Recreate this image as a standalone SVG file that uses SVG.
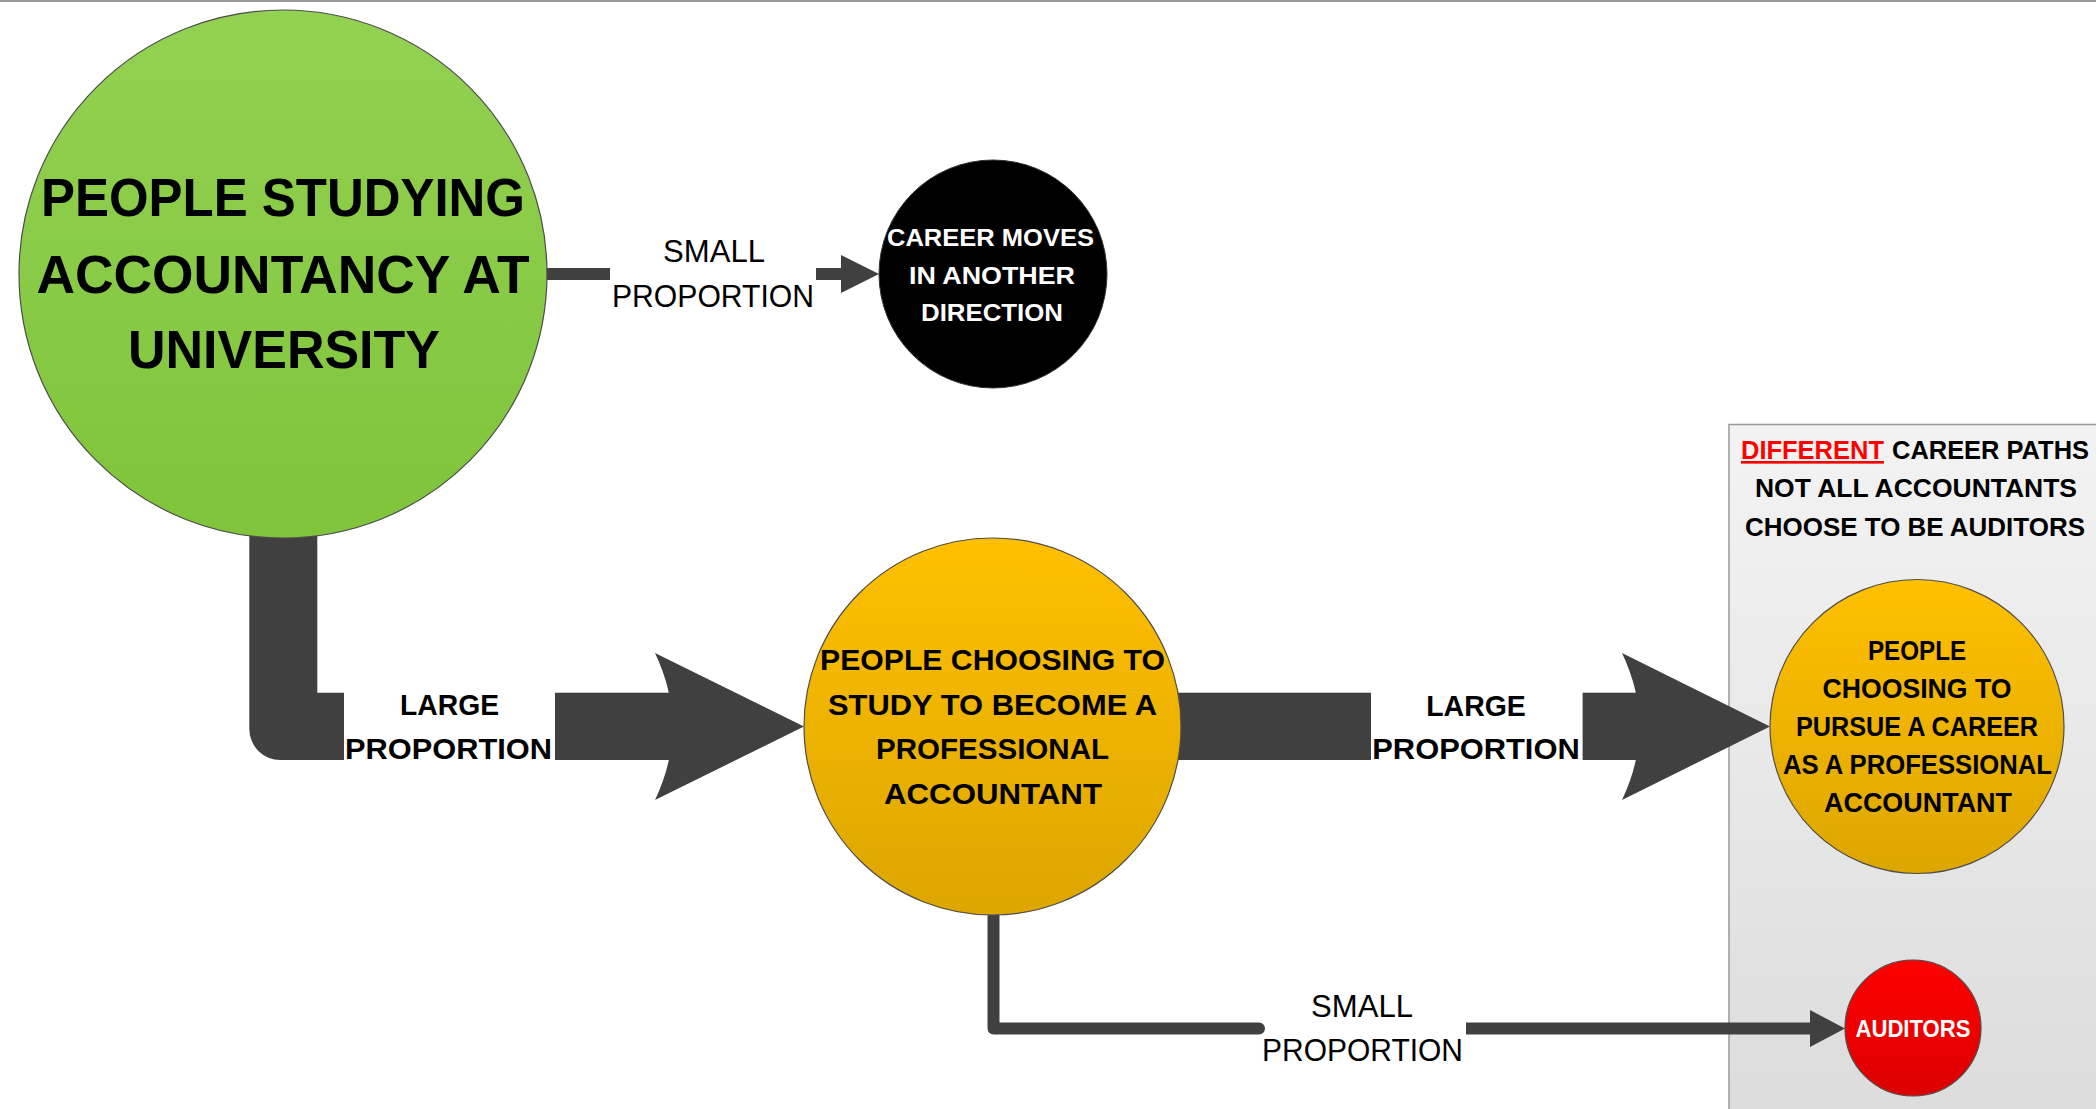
<svg xmlns="http://www.w3.org/2000/svg" width="2096" height="1109" viewBox="0 0 2096 1109">
<defs>
<linearGradient id="gGreen" x1="0" y1="0" x2="0" y2="1"><stop offset="0" stop-color="#93d152"/><stop offset="1" stop-color="#7fc43a"/></linearGradient>
<linearGradient id="gOrange" x1="0" y1="0" x2="0" y2="1"><stop offset="0" stop-color="#ffc000"/><stop offset="1" stop-color="#dda600"/></linearGradient>
<linearGradient id="gRed" x1="0" y1="0" x2="0" y2="1"><stop offset="0" stop-color="#ff0000"/><stop offset="1" stop-color="#dc0000"/></linearGradient>
<linearGradient id="gBox" x1="0" y1="0" x2="0" y2="1"><stop offset="0" stop-color="#f3f3f3"/><stop offset="1" stop-color="#dcdcdc"/></linearGradient>
<style>
.t{font-family:"Liberation Sans",Arial,sans-serif;text-anchor:middle}
.b{font-weight:bold}
.k{fill:#000}
.w{fill:#fff}
.c{fill:#404040}
.ln{stroke:#404040;stroke-width:12;fill:none}
.node{stroke:#4d4d4d;stroke-width:1.2}
</style>
</defs>
<rect x="0" y="0" width="2096" height="1109" fill="#fff"/>
<rect x="0" y="0" width="2096" height="2" fill="#999"/>

<g id="panel">
<rect x="1729" y="424.5" width="400" height="700" fill="url(#gBox)" stroke="#999" stroke-width="1.5"/>
<text x="1741" y="459" font-family="Liberation Sans, Arial, sans-serif" font-weight="bold" font-size="26.5" fill="#ff0000" text-decoration="underline" textLength="143" lengthAdjust="spacingAndGlyphs">DIFFERENT</text>
<text x="1892" y="459" font-family="Liberation Sans, Arial, sans-serif" font-weight="bold" font-size="26.5" fill="#000" textLength="197" lengthAdjust="spacingAndGlyphs">CAREER PATHS</text>
<text class="t b k" x="1916" y="497" font-size="26.5" textLength="322" lengthAdjust="spacingAndGlyphs">NOT ALL ACCOUNTANTS</text>
<text class="t b k" x="1915" y="535.5" font-size="26.5" textLength="340" lengthAdjust="spacingAndGlyphs">CHOOSE TO BE AUDITORS</text>
</g>

<g id="connectors">
<!-- green to black, small proportion -->
<line class="ln" x1="540" y1="274" x2="610" y2="274"/>
<line class="ln" x1="816" y1="274" x2="845" y2="274"/>
<polygon class="c" points="841,255 879,274 841,293"/>
<text class="t" x="714" y="262" font-size="31" textLength="102" lengthAdjust="spacingAndGlyphs">SMALL</text>
<text class="t" x="713" y="307" font-size="31" textLength="202" lengthAdjust="spacingAndGlyphs">PROPORTION</text>

<!-- green to middle, large proportion -->
<path class="c" d="M249.3,500 L317.3,500 L317.3,692.7 L344,692.7 L344,760 L280.3,760 A31,31 0 0 1 249.3,729 Z"/>
<rect class="c" x="555" y="692.7" width="125" height="67.3"/>
<path class="c" d="M655,653 L804,726.5 L655,800 Q690,726.5 655,653 Z"/>
<text class="t b" x="449.5" y="715" font-size="30" textLength="99" lengthAdjust="spacingAndGlyphs">LARGE</text>
<text class="t b" x="448.5" y="758.5" font-size="30" textLength="207" lengthAdjust="spacingAndGlyphs">PROPORTION</text>

<!-- middle to right, large proportion -->
<rect class="c" x="1170" y="692.7" width="201" height="67.3"/>
<rect class="c" x="1582.6" y="692.7" width="65" height="67.3"/>
<path class="c" d="M1622,653 L1770,726.5 L1622,800 Q1657,726.5 1622,653 Z"/>
<text class="t b" x="1476" y="716" font-size="30" textLength="99.5" lengthAdjust="spacingAndGlyphs">LARGE</text>
<text class="t b" x="1476" y="759" font-size="30" textLength="207.5" lengthAdjust="spacingAndGlyphs">PROPORTION</text>

<!-- middle to auditors, small proportion -->
<path class="ln" d="M993.5,916 L993.5,1028.5 L1259,1028.5" stroke-linecap="round" stroke-linejoin="round"/>
<line class="ln" x1="1466" y1="1028.5" x2="1814" y2="1028.5"/>
<polygon class="c" points="1810,1010 1845,1028.5 1810,1047"/>
<text class="t" x="1362" y="1017" font-size="31" textLength="102" lengthAdjust="spacingAndGlyphs">SMALL</text>
<text class="t" x="1362.5" y="1061" font-size="31" textLength="201" lengthAdjust="spacingAndGlyphs">PROPORTION</text>
</g>

<g id="node-university">
<circle class="node" cx="283" cy="274" r="264" fill="url(#gGreen)"/>
<text class="t b k" x="283" y="216" font-size="54" textLength="484" lengthAdjust="spacingAndGlyphs">PEOPLE STUDYING</text>
<text class="t b k" x="283" y="293" font-size="54" textLength="493" lengthAdjust="spacingAndGlyphs">ACCOUNTANCY AT</text>
<text class="t b k" x="284" y="368" font-size="54" textLength="312" lengthAdjust="spacingAndGlyphs">UNIVERSITY</text>
</g>

<g id="node-career-moves">
<circle cx="993" cy="274" r="114" fill="#000" stroke="#333" stroke-width="1"/>
<text class="t b w" x="990.5" y="246" font-size="24" textLength="207" lengthAdjust="spacingAndGlyphs">CAREER MOVES</text>
<text class="t b w" x="992" y="284" font-size="24" textLength="166" lengthAdjust="spacingAndGlyphs">IN ANOTHER</text>
<text class="t b w" x="992" y="321" font-size="24" textLength="142" lengthAdjust="spacingAndGlyphs">DIRECTION</text>
</g>

<g id="node-study">
<circle class="node" cx="992.5" cy="726.5" r="188.5" fill="url(#gOrange)"/>
<text class="t b k" x="992.5" y="670" font-size="29.5" textLength="345" lengthAdjust="spacingAndGlyphs">PEOPLE CHOOSING TO</text>
<text class="t b k" x="992.5" y="715" font-size="29.5" textLength="329" lengthAdjust="spacingAndGlyphs">STUDY TO BECOME A</text>
<text class="t b k" x="992.5" y="759" font-size="29.5" textLength="233" lengthAdjust="spacingAndGlyphs">PROFESSIONAL</text>
<text class="t b k" x="993" y="804" font-size="29.5" textLength="218" lengthAdjust="spacingAndGlyphs">ACCOUNTANT</text>
</g>

<g id="node-pursue">
<circle class="node" cx="1917" cy="726.5" r="147" fill="url(#gOrange)"/>
<text class="t b k" x="1917" y="660" font-size="27" textLength="98" lengthAdjust="spacingAndGlyphs">PEOPLE</text>
<text class="t b k" x="1917" y="698" font-size="27" textLength="189" lengthAdjust="spacingAndGlyphs">CHOOSING TO</text>
<text class="t b k" x="1917" y="736" font-size="27" textLength="242" lengthAdjust="spacingAndGlyphs">PURSUE A CAREER</text>
<text class="t b k" x="1917.5" y="774" font-size="27" textLength="269" lengthAdjust="spacingAndGlyphs">AS A PROFESSIONAL</text>
<text class="t b k" x="1918" y="812" font-size="27" textLength="188" lengthAdjust="spacingAndGlyphs">ACCOUNTANT</text>
</g>

<g id="node-auditors">
<circle class="node" cx="1913" cy="1028" r="68" fill="url(#gRed)"/>
<text class="t b w" x="1913" y="1036.5" font-size="24" textLength="115" lengthAdjust="spacingAndGlyphs">AUDITORS</text>
</g>
</svg>
